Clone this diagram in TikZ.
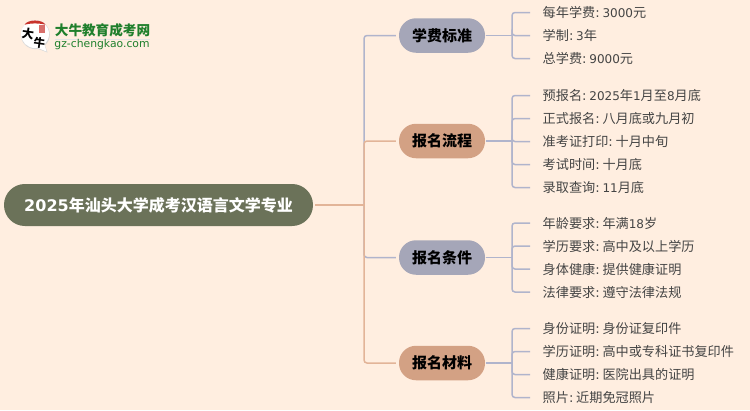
\documentclass[tikz,border=0pt]{standalone}
\usepackage{fontspec}
\setmainfont{Noto Sans CJK SC}
\newfontfamily\lat{DejaVu Sans}
\newcommand{\La}[1]{{\lat #1}}
\newcommand{\Ld}[1]{{\lat\fontsize{12}{12}\selectfont #1}}
\newcommand{\Cl}{{\lat:}\hspace{2.8pt}}
\definecolor{bgc}{HTML}{FFEEE0}
\definecolor{rootc}{HTML}{6B7259}
\definecolor{bluec}{HTML}{A5A6B8}
\definecolor{orac}{HTML}{D3A184}
\definecolor{lblue}{HTML}{B0B4CC}
\definecolor{lora}{HTML}{E2B498}
\definecolor{leafc}{HTML}{444444}
\definecolor{logog}{HTML}{1F7F2C}
\definecolor{logor}{HTML}{C8322B}
\tikzset{
 rootbox/.style={rounded corners=20.9pt,fill=rootc,text=white,minimum width=309pt,minimum height=42pt,inner sep=0pt,font=\fontsize{16}{16}\selectfont\bfseries},
 branchbox/.style={rounded corners=17pt,minimum width=86pt,minimum height=34.5pt,inner sep=0pt,text=black,font=\fontsize{15}{15}\selectfont\bfseries},
 leaf/.style={anchor=west,inner xsep=12.5pt,inner ysep=0pt,text=leafc,font=\fontsize{13.15}{13.15}\selectfont},
 conn/.style={line width=1.5pt,rounded corners=3pt},
}
\begin{document}
\begin{tikzpicture}[x=1pt,y=-1pt]
\useasboundingbox (0,0) rectangle (750,410);
\fill[bgc] (0,0) rectangle (750,410);
% nodes
\node[rootbox] (root) at (158.5,205) {\La{\textbf{2025}}年汕头大学成考汉语言文学专业};
\node[branchbox,fill=bluec] (b1) at (442,35.5) {学费标准};
\node[branchbox,fill=orac] (b2) at (442,141) {报名流程};
\node[branchbox,fill=bluec] (b3) at (442,257.5) {报名条件};
\node[branchbox,fill=orac] (b4) at (442,363) {报名材料};
\coordinate (t) at (364,205);
\coordinate (j1) at (512,35.5);
\coordinate (j2) at (512,141);
\coordinate (j3) at (512,257.5);
\coordinate (j4) at (512,363);
\node[leaf] (a1) at (530,12.5) {每年学费\Cl\Ld{3000}元};
\node[leaf] (a2) at (530,35.5) {学制\Cl\Ld{3}年};
\node[leaf] (a3) at (530,58.5) {总学费\Cl\Ld{9000}元};
\node[leaf] (c1) at (530,95.5) {预报名\Cl\Ld{2025}年\Ld{1}月至\Ld{8}月底};
\node[leaf] (c2) at (530,118.5) {正式报名\Cl 八月底或九月初};
\node[leaf] (c3) at (530,141.5) {准考证打印\Cl 十月中旬};
\node[leaf] (c4) at (530,164.5) {考试时间\Cl 十月底};
\node[leaf] (c5) at (530,187.5) {录取查询\Cl\Ld{11}月底};
\node[leaf] (d1) at (530,223) {年龄要求\Cl 年满\Ld{18}岁};
\node[leaf] (d2) at (530,246) {学历要求\Cl 高中及以上学历};
\node[leaf] (d3) at (530,269) {身体健康\Cl 提供健康证明};
\node[leaf] (d4) at (530,292) {法律要求\Cl 遵守法律法规};
\node[leaf] (e1) at (530,328.5) {身份证明\Cl 身份证复印件};
\node[leaf] (e2) at (530,351.5) {学历证明\Cl 高中或专科证书复印件};
\node[leaf] (e3) at (530,374.5) {健康证明\Cl 医院出具的证明};
\node[leaf] (e4) at (530,397.5) {照片\Cl 近期免冠照片};
% trunk
\draw[conn,lblue] (t) |- ([xshift=-3pt]b1.west);
\draw[conn,lblue] (t) |- ([xshift=-3pt]b3.west);
\draw[conn,lora] (t) |- ([xshift=-3pt]b2.west);
\draw[conn,lora] (t) |- ([xshift=-3pt]b4.west);
\draw[conn,lora] ([xshift=2pt]root.east) -- (t);
% brackets
\foreach \b/\j in {b1/j1,b2/j2,b3/j3,b4/j4}{
  \draw[conn,lblue] ([xshift=1pt]\b.east) -- (\j);
}
\foreach \l in {a1,a2,a3}{\draw[conn,lblue] (j1) |- (\l.west);}
\foreach \l in {c1,c2,c3,c4,c5}{\draw[conn,lblue] (j2) |- (\l.west);}
\foreach \l in {d1,d2,d3,d4}{\draw[conn,lblue] (j3) |- (\l.west);}
\foreach \l in {e1,e2,e3,e4}{\draw[conn,lblue] (j4) |- (\l.west);}
% logo
\fill[black!15] (37,48.5) -- (47.5,52.5) -- (44.5,44) -- cycle;
\fill[black!15] (35.3,34.6) circle (14.5);
\fill[white] (35,34) circle (14);
\fill[white] (37,47.5) -- (46.5,51.5) -- (44,43) -- cycle;
\fill[logor] (24.5,24.8) .. controls (28,19) and (42,19) .. (45.5,24.8) .. controls (40,23) and (30,23) .. cycle;
\fill[logor!70] (39,25) rectangle (45,33);
\node[text=black,font=\fontsize{12}{12}\selectfont\bfseries,rotate=-8,inner sep=0pt] (lg1) at (28,33.5) {大};
\node[text=black,font=\fontsize{11.5}{12}\selectfont\bfseries,rotate=-8,inner sep=0pt] (lg2) at (39.5,43) {牛};
\node[text=logog,font=\fontsize{13.6}{14}\selectfont\bfseries,inner sep=0pt] (lg3) at (102.5,30) {大牛教育成考网};
\fill[black!10] (55,38.5) rectangle (150,39.5);
\node[text=logog,font=\lat\fontsize{10.8}{11}\selectfont,inner sep=0pt] (lg4) at (102,45) {gz-chengkao.com};
\end{tikzpicture}
\end{document}
